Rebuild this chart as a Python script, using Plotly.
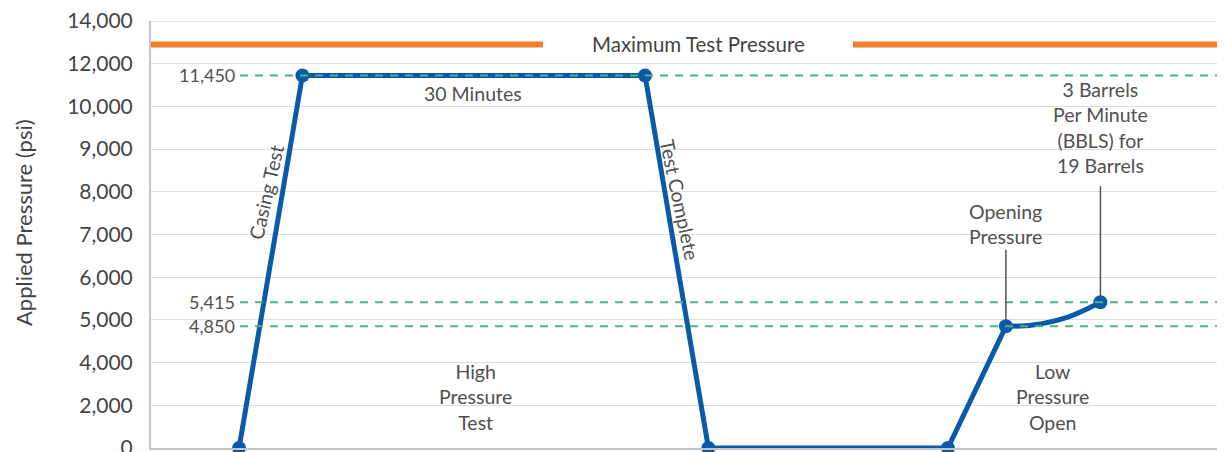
import numpy as np
import plotly.graph_objects as go

# ---- data ----
TICK_VALUES = [0, 2000, 4000, 5000, 6000, 7000, 8000, 9000, 10000, 12000, 14000]
TICK_LABELS = ["0", "2,000", "4,000", "5,000", "6,000", "7,000", "8,000",
               "9,000", "10,000", "12,000", "14,000"]
PHASE_TIME = [8.2, 14.1, 46.0, 51.9, 74.2, 79.6, 88.4]
PHASE_PRESSURE = [0, 11450, 11450, 0, 0, 4850, 5415]
CURVE_TIME = [79.6, 82.1, 85.3, 88.4]
CURVE_PRESSURE = [4850, 4880, 5060, 5415]
REFERENCE_LEVELS = [11450, 5415, 4850]
REFERENCE_LABELS = ["11,450", "5,415", "4,850"]
MAX_TEST_PRESSURE = 12900

FONT = "Lato"
BLUE = "#0b5aa8"
GREEN = "#4fb08a"
ORANGE = "#ef7f2c"
TEXT = "#505050"
GRID = "#dddddd"

idx = list(range(len(TICK_VALUES)))


def pos(v):
    return np.interp(v, TICK_VALUES, idx)


fig = go.Figure()

# curved segment (low pressure open)
fig.add_trace(go.Scatter(x=CURVE_TIME, y=pos(CURVE_PRESSURE), mode="lines",
                         line=dict(color=BLUE, width=5, shape="spline"),
                         cliponaxis=False, hoverinfo="skip", showlegend=False))
# main path
fig.add_trace(go.Scatter(x=PHASE_TIME[:6], y=pos(PHASE_PRESSURE[:6]), mode="lines",
                         line=dict(color=BLUE, width=5),
                         cliponaxis=False, showlegend=False))
# points
fig.add_trace(go.Scatter(x=PHASE_TIME, y=pos(PHASE_PRESSURE), mode="markers",
                         marker=dict(color=BLUE, size=14),
                         cliponaxis=False, showlegend=False))

shapes = []
annotations = []
W = 1074.0
# top gridline (14,000) that plotly omits at the range edge
shapes.append(dict(type="line", xref="paper", yref="y", x0=0, x1=1,
                   y0=idx[-1], y1=idx[-1], line=dict(color=GRID, width=1.5),
                   layer="below"))
for v, lab in zip(REFERENCE_LEVELS, REFERENCE_LABELS):
    shapes.append(dict(type="line", xref="paper", yref="y",
                       x0=(240 - 151) / W, x1=1, y0=pos(v), y1=pos(v),
                       line=dict(color=GREEN, width=2, dash="8px,7px"), layer="above"))
    annotations.append(dict(xref="paper", yref="y", x=(237 - 151) / W, y=pos(v),
                            text=lab, showarrow=False, xanchor="right",
                            font=dict(family=FONT, size=18, color=TEXT)))

# maximum test pressure line with gap for the label
ym = pos(MAX_TEST_PRESSURE)
shapes.append(dict(type="line", xref="paper", yref="y", x0=0, x1=(543 - 151) / W,
                   y0=ym, y1=ym, line=dict(color=ORANGE, width=6)))
shapes.append(dict(type="line", xref="paper", yref="y", x0=(853 - 151) / W, x1=1,
                   y0=ym, y1=ym, line=dict(color=ORANGE, width=6)))
annotations.append(dict(xref="paper", yref="y", x=(698 - 151) / W, y=ym,
                        text="Maximum Test Pressure", showarrow=False, xanchor="center",
                        font=dict(family=FONT, size=20.5, color="#444444")))

txt = dict(family=FONT, size=19.5, color=TEXT)
annotations += [
    dict(x=30.0, y=8.31, text="30 Minutes", showarrow=False, font=txt),
    dict(x=30.2, y=1.19, text="High<br>Pressure<br>Test", showarrow=False, font=txt),
    dict(x=83.9, y=1.19, text="Low<br>Pressure<br>Open", showarrow=False, font=txt),
    dict(x=10.7, y=5.99, text="Casing Test", showarrow=False, textangle=-77, font=txt),
    dict(x=49.25, y=5.80, text="Test Complete", showarrow=False, textangle=78, font=txt),
    dict(x=PHASE_TIME[5], y=pos(PHASE_PRESSURE[5]), text="Opening<br>Pressure",
         showarrow=True, arrowhead=0, arrowwidth=1.5, arrowcolor="#555555",
         ax=0, ay=-102, standoff=6, font=txt),
    dict(x=PHASE_TIME[6], y=pos(PHASE_PRESSURE[6]),
         text="3 Barrels<br>Per Minute<br>(BBLS) for<br>19 Barrels",
         showarrow=True, arrowhead=0, arrowwidth=1.5, arrowcolor="#555555",
         ax=0, ay=-175, standoff=6, startstandoff=8, font=txt),
    dict(xref="paper", yref="paper", x=(23 - 151) / W, y=(448 - 223) / 427.0,
         text="Applied Pressure (psi)", showarrow=False, textangle=-90,
         xanchor="center", yanchor="middle",
         font=dict(family=FONT, size=22, color="#444444")),
]

# the page body has an 8px default margin: the figure is sized so that it ends at 1225x452
fig.update_layout(
    width=1217, height=444,
    margin=dict(l=143, r=0, t=13, b=4, autoexpand=False),
    paper_bgcolor="white", plot_bgcolor="white",
    shapes=shapes, annotations=annotations,
    xaxis=dict(range=[0, 100], showgrid=False, zeroline=False, showticklabels=False,
               showline=True, linecolor="#c4c4c4", linewidth=2, fixedrange=True,
               automargin=False),
    yaxis=dict(range=[0, 10], tickvals=idx, ticktext=TICK_LABELS,
               showgrid=True, gridcolor=GRID, gridwidth=1, zeroline=False,
               showline=True, linecolor="#c4c4c4", linewidth=2, automargin=False,
               tickfont=dict(family=FONT, size=21, color="#444444"),
               ticks="", ticklabelstandoff=12, ticklabeloverflow="allow"),
)

fig.write_html("out.html")
